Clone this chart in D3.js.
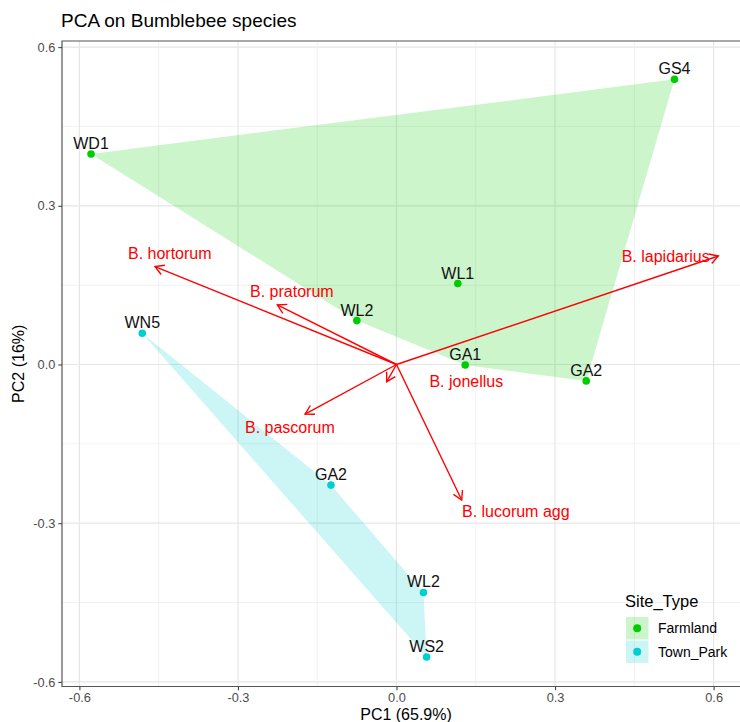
<!DOCTYPE html>
<html>
<head>
<meta charset="utf-8">
<script src="https://cdn.jsdelivr.net/npm/d3@7"></script>
<style>
  html, body { margin: 0; padding: 0; background: #fff; }
  svg { display: block; font-family: "Liberation Sans", Arial, sans-serif; }
</style>
</head>
<body>
<svg id="chart" width="740" height="722"></svg>
<script>
// Site scores on the first two principal components
const siteNames = ["WD1", "GS4", "WL1", "WL2", "GA1", "GA2", "WN5", "GA2", "WL2", "WS2"];
const siteTypes = ["Farmland", "Farmland", "Farmland", "Farmland", "Farmland", "Farmland",
                   "Town_Park", "Town_Park", "Town_Park", "Town_Park"];
const pc1 = [-0.578, 0.526, 0.116, -0.075, 0.130, 0.359, -0.481, -0.124, 0.051, 0.057];
const pc2 = [0.398, 0.539, 0.153, 0.083, -0.001, -0.031, 0.059, -0.228, -0.431, -0.553];

// Species loadings (arrow tips) and where their names sit
const species = ["B. hortorum", "B. pratorum", "B. pascorum", "B. jonellus", "B. lucorum agg", "B. lapidarius"];
const loadPC1 = [-0.457, -0.2255, -0.173, -0.0185, 0.1234, 0.609];
const loadPC2 = [0.185, 0.1125, -0.0936, -0.0325, -0.2561, 0.2051];
const labelPC1 = [-0.429, -0.198, -0.2017, 0.1321, 0.2257, 0.5094];
const labelPC2 = [0.2096, 0.1389, -0.1193, -0.0312, -0.2769, 0.2051];

const groups = ["Farmland", "Town_Park"];
const groupColours = ["#00CD00", "#00CED1"];

const xTicks = [-0.6, -0.3, 0.0, 0.3, 0.6];
const yTicks = [-0.6, -0.3, 0.0, 0.3, 0.6];
const xMinor = [-0.45, -0.15, 0.15, 0.45];
const yMinor = [-0.45, -0.15, 0.15, 0.45];

const titleText = "PCA on Bumblebee species";
const xTitle = "PC1 (65.9%)";
const yTitle = "PC2 (16%)";
const legendTitle = "Site_Type";

// ---- layout ----
const svg = d3.select("#chart");
const panel = { left: 62, top: 41, right: 760, bottom: 686.5 };

const x = d3.scaleLinear().domain([-0.6, 0.6]).range([79.4, 713.6]);
const y = d3.scaleLinear().domain([-0.6, 0.6]).range([681.9, 47.1]);
const colour = d3.scaleOrdinal().domain(groups).range(groupColours);
const fmt = d => d.toFixed(1);

svg.append("rect").attr("width", 740).attr("height", 722).attr("fill", "#fff");

// grid
const grid = svg.append("g");
grid.selectAll(".xminor").data(xMinor).join("line")
  .attr("x1", d => x(d)).attr("x2", d => x(d))
  .attr("y1", panel.top).attr("y2", panel.bottom)
  .attr("stroke", "#EBEBEB").attr("stroke-width", 0.7);
grid.selectAll(".yminor").data(yMinor).join("line")
  .attr("y1", d => y(d)).attr("y2", d => y(d))
  .attr("x1", panel.left).attr("x2", panel.right)
  .attr("stroke", "#EBEBEB").attr("stroke-width", 0.7);
grid.selectAll(".xmajor").data(xTicks).join("line")
  .attr("x1", d => x(d)).attr("x2", d => x(d))
  .attr("y1", panel.top).attr("y2", panel.bottom)
  .attr("stroke", "#E6E6E6").attr("stroke-width", 1.2);
grid.selectAll(".ymajor").data(yTicks).join("line")
  .attr("y1", d => y(d)).attr("y2", d => y(d))
  .attr("x1", panel.left).attr("x2", panel.right)
  .attr("stroke", "#E6E6E6").attr("stroke-width", 1.2);

// site records
const sites = siteNames.map((n, i) => ({ name: n, type: siteTypes[i], pc1: pc1[i], pc2: pc2[i] }));

// convex hulls per site type
const hullLayer = svg.append("g");
groups.forEach(g => {
  const pts = sites.filter(s => s.type === g).map(s => [x(s.pc1), y(s.pc2)]);
  const hull = d3.polygonHull(pts);
  hullLayer.append("path")
    .attr("d", "M" + hull.map(p => p.join(",")).join("L") + "Z")
    .attr("fill", colour(g)).attr("fill-opacity", 0.2);
});

// points
svg.append("g").selectAll("circle").data(sites).join("circle")
  .attr("cx", d => x(d.pc1)).attr("cy", d => y(d.pc2)).attr("r", 3.8)
  .attr("fill", d => colour(d.type));

// point labels
svg.append("g").selectAll("text").data(sites).join("text")
  .attr("x", d => x(d.pc1)).attr("y", d => y(d.pc2) - 5)
  .attr("text-anchor", "middle").attr("font-size", 16).attr("fill", "#111")
  .text(d => d.name);

// loading arrows
const loads = species.map((s, i) => ({ name: s, a: loadPC1[i], b: loadPC2[i], la: labelPC1[i], lb: labelPC2[i] }));
const arrows = svg.append("g").attr("stroke", "#FF0000").attr("stroke-width", 1.4).attr("fill", "none");
const headLen = 10, headAng = Math.PI / 6;
loads.forEach(d => {
  const x0 = x(0), y0 = y(0), x1 = x(d.a), y1 = y(d.b);
  const ang = Math.atan2(y1 - y0, x1 - x0);
  arrows.append("line").attr("x1", x0).attr("y1", y0).attr("x2", x1).attr("y2", y1);
  const hx1 = x1 - headLen * Math.cos(ang - headAng), hy1 = y1 - headLen * Math.sin(ang - headAng);
  const hx2 = x1 - headLen * Math.cos(ang + headAng), hy2 = y1 - headLen * Math.sin(ang + headAng);
  arrows.append("path").attr("d", `M${hx1},${hy1}L${x1},${y1}L${hx2},${hy2}`)
    .attr("stroke-linejoin", "miter");
});

svg.append("g").selectAll("text").data(loads).join("text")
  .attr("x", d => x(d.la)).attr("y", d => y(d.lb))
  .attr("dy", "0.36em")
  .attr("text-anchor", "middle").attr("font-size", 16).attr("fill", "#FF0000")
  .text(d => d.name);

// panel border (right edge lies beyond the visible area)
svg.append("path")
  .attr("d", `M${panel.right},${panel.top}H${panel.left}V${panel.bottom}H${panel.right}`)
  .attr("fill", "none").attr("stroke", "#555").attr("stroke-width", 1.2);

// axes
const xAxis = svg.append("g").attr("transform", `translate(0,${panel.bottom})`)
  .call(d3.axisBottom(x).tickValues(xTicks).tickFormat(fmt).tickSize(3.7).tickPadding(3));
const yAxis = svg.append("g").attr("transform", `translate(${panel.left},0)`)
  .call(d3.axisLeft(y).tickValues(yTicks).tickFormat(fmt).tickSize(3.7).tickPadding(3));
[xAxis, yAxis].forEach(a => {
  a.select(".domain").remove();
  a.selectAll(".tick line").attr("stroke", "#444").attr("stroke-width", 1.1);
  a.selectAll(".tick text").attr("fill", "#4D4D4D").attr("font-size", 12.8)
    .attr("font-family", "Liberation Sans, Arial, sans-serif");
});

// titles
svg.append("text").attr("x", 61).attr("y", 27).attr("font-size", 19).attr("fill", "#000")
  .text(titleText);
svg.append("text").attr("x", (panel.left + 750) / 2).attr("y", 720)
  .attr("text-anchor", "middle").attr("font-size", 16).attr("fill", "#000").text(xTitle);
svg.append("text").attr("transform", `translate(24,${(panel.top + panel.bottom) / 2}) rotate(-90)`)
  .attr("text-anchor", "middle").attr("font-size", 16).attr("fill", "#000").text(yTitle);

// legend
const legend = svg.append("g").attr("transform", "translate(626,0)");
legend.append("text").attr("x", -1).attr("y", 606.7).attr("font-size", 16.5).attr("fill", "#000")
  .text(legendTitle);
const keyTop = [617, 640.5];
groups.forEach((g, i) => {
  const k = legend.append("g").attr("transform", `translate(0,${keyTop[i]})`);
  k.append("rect").attr("width", 22.5).attr("height", 22.5)
    .attr("fill", colour(g)).attr("fill-opacity", 0.2);
  k.append("circle").attr("cx", 11.2).attr("cy", 11.2).attr("r", 4).attr("fill", colour(g));
  k.append("text").attr("x", 32).attr("y", 11.2).attr("dy", "0.36em")
    .attr("font-size", 14).attr("fill", "#000").text(g);
});
</script>
</body>
</html>
